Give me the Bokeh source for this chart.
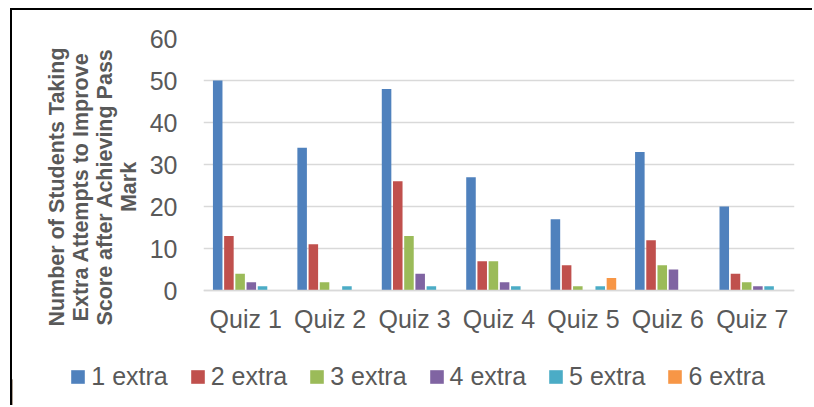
from bokeh.plotting import figure
from bokeh.layouts import column
from bokeh.models import Legend, LegendItem, FixedTicker, Range1d, FactorRange
from bokeh.transform import dodge
from bokeh.embed import file_html
from bokeh.resources import INLINE

quizzes = ["Quiz 1", "Quiz 2", "Quiz 3", "Quiz 4", "Quiz 5", "Quiz 6", "Quiz 7"]
series = ["1 extra", "2 extra", "3 extra", "4 extra", "5 extra", "6 extra"]
extra1 = [50, 34, 48, 27, 17, 33, 20]
extra2 = [13, 11, 26, 7, 6, 12, 4]
extra3 = [4, 2, 13, 7, 1, 6, 2]
extra4 = [2, 0, 4, 2, 0, 5, 1]
extra5 = [1, 1, 1, 1, 1, 0, 1]
extra6 = [0, 0, 0, 0, 3, 0, 0]
y_ticks = [0, 10, 20, 30, 40, 50, 60]
colors = ["#4F81BD", "#C0504D", "#9BBB59", "#8064A2", "#4BACC6", "#F79646"]
values = [extra1, extra2, extra3, extra4, extra5, extra6]

data = {"quiz": quizzes}
for name, vals in zip(series, values):
    data[name] = vals

FONT = "Liberation Sans"
TXT = "#595959"

p = figure(x_range=FactorRange(*quizzes, range_padding=0), y_range=Range1d(-10.7, 60),
           width=800, height=343, output_backend="svg", toolbar_location=None,
           min_border_left=191, min_border_right=18, min_border_top=28, min_border_bottom=18)
p.outline_line_color = None
p.frame_align = False

pitch = 0.1327
for i, name in enumerate(series):
    p.vbar(x=dodge("quiz", (i - 2.5) * pitch, range=p.x_range), top=name, bottom=0, width=0.113,
           source=data, fill_color=colors[i], line_color=None)

p.yaxis.ticker = FixedTicker(ticks=y_ticks)
p.yaxis.axis_line_color = None
p.yaxis.major_tick_line_color = None
p.yaxis.minor_tick_line_color = None
p.yaxis.major_tick_out = 0
p.yaxis.major_label_standoff = 26
p.yaxis.major_label_text_font = FONT
p.yaxis.major_label_text_font_size = "25px"
p.yaxis.major_label_text_color = TXT
p.yaxis.axis_label = "Number of Students Taking\nExtra Attempts to Improve\nScore after Achieving Pass\nMark"
p.yaxis.axis_label_text_font = FONT
p.yaxis.axis_label_text_font_size = "21.5px"
p.yaxis.axis_label_text_font_style = "bold"
p.yaxis.axis_label_text_color = TXT
p.yaxis.axis_label_standoff = 6
p.yaxis.axis_label_text_line_height = 1.0

p.xaxis.fixed_location = 0
p.xaxis.axis_line_color = "#d9d9d9"
p.xaxis.axis_line_width = 1.5
p.xaxis.major_tick_line_color = None
p.xaxis.minor_tick_line_color = None
p.xaxis.major_tick_out = 0
p.xaxis.major_label_standoff = 14
p.xaxis.major_label_text_font = FONT
p.xaxis.major_label_text_font_size = "25px"
p.xaxis.major_label_text_color = TXT

p.xgrid.grid_line_color = None
p.ygrid.grid_line_color = "#d9d9d9"
p.ygrid.grid_line_width = 1.5

# legend strip
q = figure(x_range=Range1d(0, 1), y_range=Range1d(0, 1), width=800, height=52,
           output_backend="svg", toolbar_location=None,
           min_border_left=0, min_border_right=0, min_border_top=0, min_border_bottom=0)
q.frame_align = False
q.axis.visible = False
q.grid.visible = False
q.outline_line_color = None
dummies = []
for i, name in enumerate(series):
    dummies.append(q.vbar(x=[-10], top=[0.5], width=0.1, fill_color=colors[i], line_color=None))

legend = Legend(items=[LegendItem(label=s, renderers=[r]) for s, r in zip(series, dummies)],
                orientation="horizontal", location=(57.3, 14.5),
                label_text_font=FONT, label_text_font_size="25px", label_text_color=TXT,
                glyph_width=17, glyph_height=17, label_standoff=5, spacing=21,
                padding=0, margin=0, border_line_color=None, background_fill_alpha=0)
q.add_layout(legend, "center")

layout = column(p, q, spacing=0, margin=(8, 0, 0, 10),
                styles={"border-left": "2px solid #000000", "border-top": "2px solid #000000",
                        "border-right": "none", "border-bottom": "none"})
open("out.html", "w").write(file_html(layout, INLINE))
